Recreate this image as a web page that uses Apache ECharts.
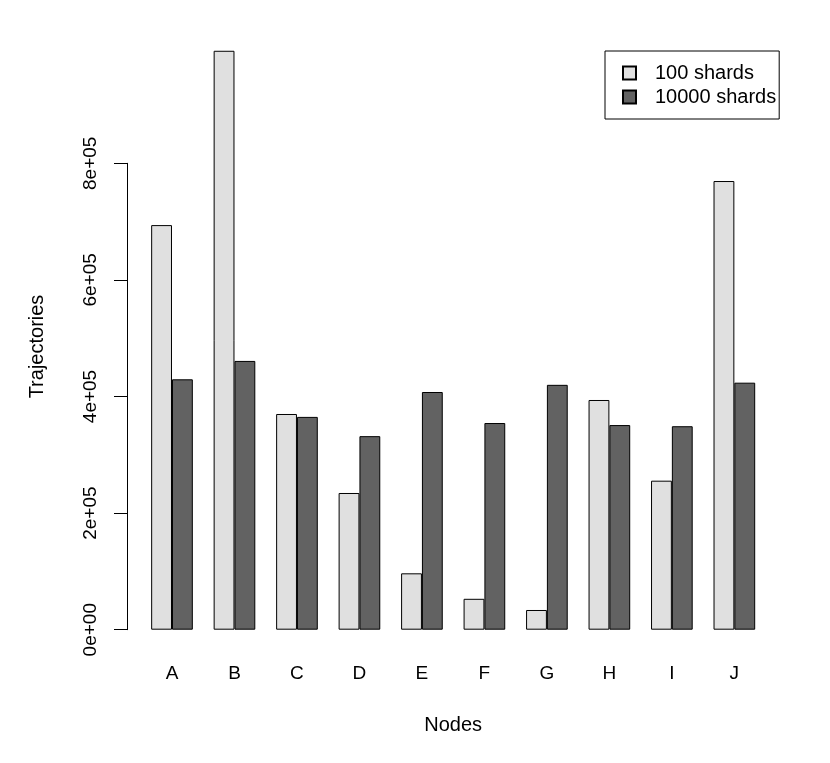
<!DOCTYPE html>
<html>
<head>
<meta charset="utf-8">
<script src="https://cdn.jsdelivr.net/npm/echarts@6/dist/echarts.min.js"></script>
<style>
html,body{margin:0;padding:0;background:#fff;}
#chart{width:830px;height:763px;}
</style>
</head>
<body>
<div id="chart"></div>
<script>
var categories = ['A','B','C','D','E','F','G','H','I','J'];
var shards100 = [694000, 993000, 370000, 234500, 96700, 53000, 33800, 394000, 255600, 769600];
var shards10000 = [429500, 461000, 365000, 332000, 407700, 354500, 420000, 351000, 349000, 423700];
var yTickLabels = ['0e+00','2e+05','4e+05','6e+05','8e+05'];
var seriesNames = ['100 shards','10000 shards'];

var FONT = '"Liberation Sans", Arial, Helvetica, sans-serif';
var chart = echarts.init(document.getElementById('chart'));
chart.setOption({
  animation: false,
  backgroundColor: '#ffffff',
  textStyle: { fontFamily: FONT, color: '#000' },
  grid: { left: 140.75, right: 64.4, top: 163.3, bottom: 133.3, containLabel: false },
  legend: {
    orient: 'vertical',
    left: 605,
    top: 51,
    data: seriesNames,
    itemWidth: 13,
    itemHeight: 13,
    itemGap: 4,
    padding: [12, 3, 12, 17],
    borderColor: '#000',
    borderWidth: 1,
    icon: 'rect',
    textStyle: { fontFamily: FONT, fontSize: 20, color: '#000', lineHeight: 20, padding: [0, 0, 0, 14] }
  },
  xAxis: {
    type: 'category',
    data: categories,
    name: 'Nodes',
    nameLocation: 'middle',
    nameGap: 86,
    nameTextStyle: { fontFamily: FONT, fontSize: 20, color: '#000' },
    axisLine: { show: false },
    axisTick: { show: false },
    axisLabel: { fontFamily: FONT, fontSize: 19, color: '#000', margin: 35 }
  },
  yAxis: {
    type: 'value',
    min: 0,
    max: 800000,
    interval: 200000,
    offset: 13.75,
    name: 'Trajectories',
    nameLocation: 'middle',
    nameGap: 80,
    nameTextStyle: { fontFamily: FONT, fontSize: 20, color: '#000', padding: [0, 0, 0, 100] },
    splitLine: { show: false },
    axisLine: { show: true, lineStyle: { color: '#000', width: 1 } },
    axisTick: { show: true, length: 13, lineStyle: { color: '#000', width: 1 } },
    axisLabel: {
      rotate: 90,
      margin: 27,
      fontFamily: FONT,
      fontSize: 19,
      color: '#000',
      formatter: function (v) { return yTickLabels[Math.round(v / 200000)]; }
    }
  },
  series: [
    {
      name: seriesNames[0],
      type: 'bar',
      data: shards100,
      barWidth: 20.83,
      barGap: '0%',
      clip: false,
      itemStyle: { color: '#e0e0e0', borderColor: '#000', borderWidth: 1 }
    },
    {
      name: seriesNames[1],
      type: 'bar',
      data: shards10000,
      barWidth: 20.83,
      barGap: '0%',
      clip: false,
      itemStyle: { color: '#626262', borderColor: '#000', borderWidth: 1 }
    }
  ]
});
</script>
</body>
</html>
